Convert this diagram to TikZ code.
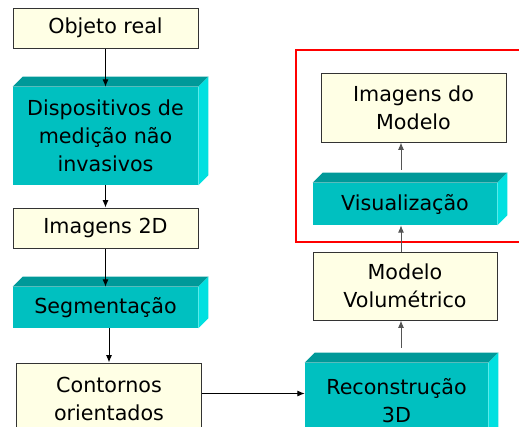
\documentclass[tikz,border=0pt]{standalone}
\usepackage{fontspec}
\setmainfont{DejaVu Sans}
\usepackage{xcolor}
\usetikzlibrary{calc,positioning,arrows.meta}
\definecolor{creme}{RGB}{255,255,229}
\definecolor{borda}{RGB}{51,51,51}
\definecolor{tealfrente}{RGB}{0,192,192}
\definecolor{tealtopo}{RGB}{0,153,153}
\definecolor{teallado}{RGB}{0,224,224}
\definecolor{setacinza}{RGB}{85,85,85}
\tikzset{
	texto/.style={align=center,inner sep=0pt,font=\fontsize{15.5}{21}\selectfont},
	caixa/.style={texto,draw=borda,line width=0.75pt,fill=creme,minimum width=138.75pt},
	bloco/.style={texto,fill=tealfrente,minimum width=138.75pt},
	seta/.style={-{Latex[length=5.5pt,width=4.5pt]},line width=0.75pt,black},
	setaclara/.style={seta,setacinza}
}
\begin{document}
\begin{tikzpicture}[x=0.75pt,y=-0.75pt]
		\clip (0,0) rectangle (519,426);
		\fill[white] (0,0) rectangle (519,426);
		% coluna da esquerda
		\node[caixa,minimum height=30pt] (objeto) at (105.5,28) {Objeto real};
		\node[bloco,minimum height=73.5pt] (disp) at (105.5,136) {Dispositivos de\\medição não\\invasivos};
		\node[caixa,minimum height=30pt] (img2d) at (105.5,228) {Imagens 2D};
		\node[bloco,minimum height=30.75pt] (seg) at (105.5,307.5) {Segmentação};
		\node[caixa,minimum height=54pt] (cont) at (109,399) {Contornos\\orientados};
		% coluna da direita
		\node[bloco,minimum width=137.25pt,minimum height=57pt] (recon) at (396.5,401) {Reconstrução\\3D};
		\node[caixa,minimum width=138pt,minimum height=51pt] (modelo) at (405,286) {Modelo\\Volumétrico};
		\node[bloco,minimum width=138pt,minimum height=31.5pt] (visu) at (405,204) {Visualização};
		\node[caixa,minimum height=51.75pt] (imgmod) at (413.5,107.5) {Imagens do\\Modelo};
		\foreach \b in {disp,seg,recon,visu}{
			\fill[tealtopo] (\b.north west) -- ++(10,-10) -- ($(\b.north east)+(10,-10)$) -- (\b.north east) -- cycle;
			\fill[teallado] (\b.north east) -- ++(10,-10) -- ($(\b.south east)+(10,-10)$) -- (\b.south east) -- cycle;
		}
		\draw[red,line width=2.2pt] (296,50) rectangle (540,242);
		\draw[seta] (objeto) -- (disp);
		\draw[seta] (disp) -- (img2d);
		\draw[seta] (img2d) -- (seg);
		\draw[seta] (cont.north |- seg.south) -- (cont.north);
		\draw[seta] (cont.east |- 0,393.5) -- (recon.west |- 0,393.5);
		\coordinate (recontopo) at ($(recon.north)+(4.5,-15)$);
		\draw[setaclara] (recontopo) -- (recontopo |- modelo.south);
		\draw[setaclara] (recontopo |- modelo.north) -- (recontopo |- visu.south);
		\coordinate (visutopo) at ($(visu.north)+(-4,-13)$);
		\draw[setaclara] (visutopo) -- (visutopo |- imgmod.south);
	\end{tikzpicture}
\end{document}
